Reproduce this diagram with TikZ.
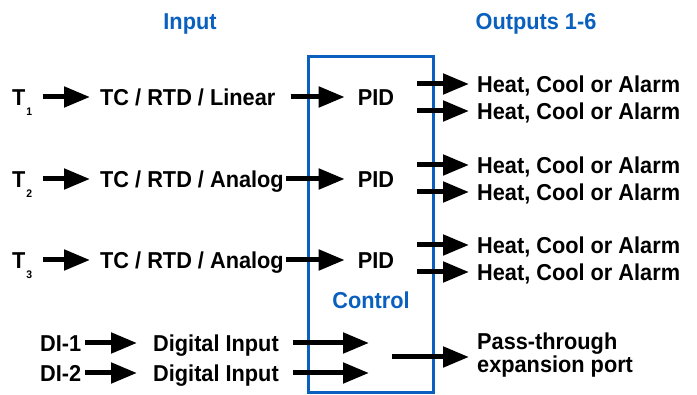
\documentclass[tikz,border=0pt]{standalone}
\usepackage{fontspec}
\setmainfont{Liberation Sans}[FakeStretch=0.945]
\usepackage{tikz}
\usetikzlibrary{arrows.meta}
\definecolor{ctrlblue}{RGB}{10,96,190}

\begin{document}
\begin{tikzpicture}[x=1pt, y=-1pt,
			txt/.style={font=\fontsize{23}{21}\selectfont\bfseries, inner sep=0pt},
			lbl/.style={txt, text height=16.5pt, text depth=0pt},
			ttl/.style={lbl, text=ctrlblue},
			arr/.style={line width=5pt, -{Triangle[length=26pt, width=20pt]}}]
			\useasboundingbox (0,0) rectangle (697,395);
			\draw[ctrlblue, line width=3pt] (308,57) rectangle (433,393);
			% Titel
			\node[ttl] (inp) at (190,21) {Input};
			\node[ttl] (outp) at (536,21) {Outputs 1-6};
			\node[ttl] (ctrl) at (371,300) {Control};
			% Eingaenge
			\node[lbl, anchor=west] (t1) at (12,97) {T\kern1pt\raisebox{-10pt}[0pt][0pt]{\fontsize{11}{11}\selectfont 1}};
			\node[lbl, anchor=west] (t2) at (12,179) {T\kern1pt\raisebox{-10pt}[0pt][0pt]{\fontsize{11}{11}\selectfont 2}};
			\node[lbl, anchor=west] (t3) at (12,260) {T\kern1pt\raisebox{-10pt}[0pt][0pt]{\fontsize{11}{11}\selectfont 3}};
			\node[lbl, anchor=west] (tc1) at (100,97) {TC / RTD / Linear};
			\node[lbl, anchor=west] (tc2) at (100,179) {TC / RTD / Analog};
			\node[lbl, anchor=west] (tc3) at (100,260) {TC / RTD / Analog};
			\node[lbl] (pid1) at (376,97) {PID};
			\node[lbl] (pid2) at (376,179) {PID};
			\node[lbl] (pid3) at (376,260) {PID};
			\node[lbl, anchor=west] (di1) at (40,343) {DI-1};
			\node[lbl, anchor=west] (di2) at (40,373) {DI-2};
			\node[lbl, anchor=west] (dig1) at (153,343) {Digital Input};
			\node[lbl, anchor=west] (dig2) at (153,373) {Digital Input};
			\coordinate (dend1) at (369,343);
			\coordinate (dend2) at (369,373);
			% Ausgaenge
			\node[lbl, anchor=west] (h1a) at (477,84) {Heat, Cool or Alarm};
			\node[lbl, anchor=west] (h1b) at (477,111) {Heat, Cool or Alarm};
			\node[lbl, anchor=west] (h2a) at (477,165) {Heat, Cool or Alarm};
			\node[lbl, anchor=west] (h2b) at (477,192) {Heat, Cool or Alarm};
			\node[lbl, anchor=west] (h3a) at (477,245) {Heat, Cool or Alarm};
			\node[lbl, anchor=west] (h3b) at (477,272) {Heat, Cool or Alarm};
			\node[txt, anchor=west, align=left] (pass) at (477,355) {Pass-through\\expansion port};
			\coordinate (pstart) at (392,357);
			% Pfeile
			\draw[arr, shorten <=11pt, shorten >=10pt] (t1.east) -- (tc1.west);
			\draw[arr, shorten <=11pt, shorten >=10pt] (t2.east) -- (tc2.west);
			\draw[arr, shorten <=11pt, shorten >=10pt] (t3.east) -- (tc3.west);
			\draw[arr, shorten <=15pt, shorten >=13pt] (tc1.east) -- (pid1.west);
			\draw[arr, shorten <=2pt, shorten >=13pt] (tc2.east) -- (pid2.west);
			\draw[arr, shorten <=2pt, shorten >=13pt] (tc3.east) -- (pid3.west);
			\draw[arr, shorten <=23pt, shorten >=8pt] (pid1.east |- h1a) -- (h1a.west);
			\draw[arr, shorten <=23pt, shorten >=8pt] (pid1.east |- h1b) -- (h1b.west);
			\draw[arr, shorten <=23pt, shorten >=8pt] (pid2.east |- h2a) -- (h2a.west);
			\draw[arr, shorten <=23pt, shorten >=8pt] (pid2.east |- h2b) -- (h2b.west);
			\draw[arr, shorten <=23pt, shorten >=8pt] (pid3.east |- h3a) -- (h3a.west);
			\draw[arr, shorten <=23pt, shorten >=8pt] (pid3.east |- h3b) -- (h3b.west);
			\draw[arr, shorten <=4pt, shorten >=16pt] (di1.east) -- (dig1.west);
			\draw[arr, shorten <=4pt, shorten >=16pt] (di2.east) -- (dig2.west);
			\draw[arr, shorten <=14pt] (dig1.east) -- (dend1);
			\draw[arr, shorten <=14pt] (dig2.east) -- (dend2);
			\draw[arr, shorten >=8pt] (pstart) -- (pass.west |- pstart);
		\end{tikzpicture}
\end{document}
